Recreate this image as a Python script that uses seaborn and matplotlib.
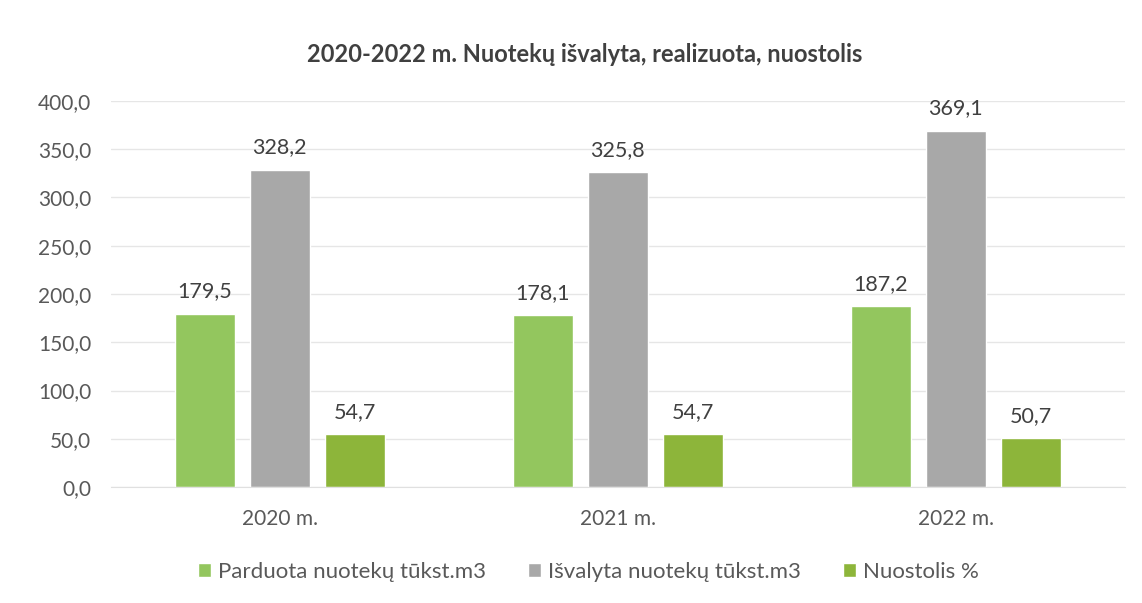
import pandas as pd
import numpy as np
import matplotlib.pyplot as plt
import seaborn as sns
from matplotlib.patches import Patch

# data
years = ["2020 m.", "2021 m.", "2022 m."]
series = ["Parduota nuotekų tūkst.m3", "Išvalyta nuotekų tūkst.m3", "Nuostolis %"]
parduota = [179.5, 178.1, 187.2]
isvalyta = [328.2, 325.8, 369.1]
nuostolis = [54.7, 54.7, 50.7]
colors = ["#93c65e", "#a8a8a8", "#8db53a"]

df = pd.DataFrame({
    "year": years * 3,
    "series": [series[0]] * 3 + [series[1]] * 3 + [series[2]] * 3,
    "value": parduota + isvalyta + nuostolis,
})

sns.set_style("white")
plt.rcParams['font.family'] = ['Lato', 'DejaVu Sans']

fig = plt.figure(figsize=(11.42, 6.03), dpi=100)
ax = fig.add_axes([0.097, 0.192, 0.888, 0.641])

sns.barplot(data=df, x="year", y="value", hue="series", palette=colors,
            width=0.667, gap=0.2, ax=ax, legend=False, saturation=1)

for c in ax.containers:
    ax.bar_label(c, labels=[f"{v:.1f}".replace(".", ",") for v in c.datavalues],
                 padding=9, fontsize=15.5, color="#404040")

ax.set_ylim(0, 400)
ax.set_xlim(-0.5, 2.5)
ax.set_yticks(np.arange(0, 401, 50))
ax.set_yticklabels([f"{v:.1f}".replace(".", ",") for v in np.arange(0, 401, 50)])
ax.tick_params(axis="both", labelsize=15, labelcolor="#595959", length=0)
ax.tick_params(axis="x", pad=16)
ax.tick_params(axis="y", pad=14)
ax.set_xlabel("")
ax.set_ylabel("")
ax.yaxis.grid(True, color="#e6e6e6", linewidth=1)
ax.set_axisbelow(True)
for s in ["top", "right", "left"]:
    ax.spines[s].set_visible(False)
ax.spines["bottom"].set_color("#e0e0e0")

fig.text(0.512, 0.909, "2020-2022 m. Nuotekų išvalyta, realizuota, nuostolis",
         ha="center", va="center", fontsize=17, fontweight="bold", color="#404040")

handles = [Patch(facecolor=c, label=s) for c, s in zip(colors, series)]
fig.legend(handles=handles, loc="center", bbox_to_anchor=(0.515, 0.052), ncol=3,
           frameon=False, fontsize=16, handlelength=0.6, handleheight=0.6,
           handletextpad=0.3, columnspacing=1.9, labelcolor="#595959")

fig.savefig("out.png", dpi=100, facecolor="white")
